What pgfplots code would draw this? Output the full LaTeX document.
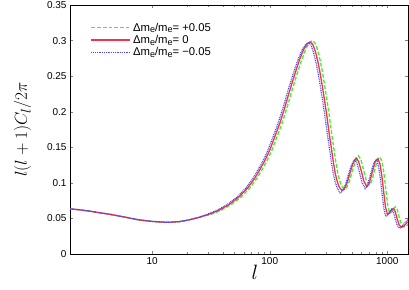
\documentclass[border=0pt]{standalone}
\usepackage{fontspec}
\setmainfont{Liberation Sans}
\usepackage{pgfplots}
\pgfplotsset{compat=1.18}
\usetikzlibrary{calc}
\definecolor{cgreen}{RGB}{70,235,50}
\definecolor{cred}{RGB}{245,50,75}
\definecolor{cblue}{RGB}{70,70,245}
\tikzset{
  sgreen/.style={color=cgreen, line width=1.3pt, dash pattern=on 3.8pt off 1.9pt},
  sred/.style={color=cred, line width=1.3pt},
  sblue/.style={color=cblue, line width=1.2pt, dash pattern=on 0.9pt off 0.9pt},
}
\newcommand{\sube}{\raisebox{-0.3ex}{\fontsize{9}{10}\selectfont e}}
\newcommand{\dme}[1]{Δm\sube/m\sube= #1}
\begin{document}
\begin{tikzpicture}
\begin{axis}[
  scale only axis, width=338pt, height=249pt,
  xmode=log, xmin=2, xmax=1500, ymin=0, ymax=0.35,
  axis line style={line width=0.9pt},
  tick align=inside, tick pos=both,
  major tick length=3.5pt, minor tick length=2pt,
  xtick={10,100,1000}, xticklabels={10,100,1000},
  ytick={0,0.05,0.1,0.15,0.2,0.25,0.3,0.35},
  yticklabels={0,0.05,0.1,0.15,0.2,0.25,0.3,0.35},
  tick label style={font=\fontsize{10}{11}\selectfont},
  /pgf/number format/assume math mode=true,
  xlabel={$l$}, ylabel={$l(l+1)C_l/2\pi$},
  label style={font=\fontsize{19}{22}\selectfont},
  xlabel style={at={(axis description cs:0.547,0)}, anchor=north, yshift=-8pt, font=\fontsize{20}{24}\selectfont},
  ylabel style={yshift=9pt},
  legend cell align=left,
  legend style={draw=none, fill=none, at={(0.052,0.945)}, anchor=north west,
    font=\fontsize{11.3}{13}\selectfont, row sep=-1.5pt},
  legend image code/.code={\draw[#1] (0pt,0pt) -- (39pt,0pt);},
]
\addlegendimage{sgreen}
\addlegendentry{\dme{+0.05}}
\addlegendimage{sred}
\addlegendentry{\dme{0}}
\addlegendimage{sblue}
\addlegendentry{\dme{−0.05}}
\addplot[sgreen, forget plot] coordinates {
(2,0.0635)(2.5,0.0618)(3,0.0600)(3.5,0.0582)(4.3,0.0560)(5,0.0540)(6,0.0515)(7.7,0.0480)
(10,0.0458)(12,0.0449)(14,0.0446)(17,0.0455)(20.7,0.0480)(25,0.0515)
(31.4,0.0555)(38.7,0.0615)(47.0,0.0695)(57.5,0.0805)(67.9,0.0930)(78.4,0.107)(85.7,0.118)
(94.1,0.130)(104.5,0.146)(115,0.164)(127.5,0.184)(141,0.207)(154.7,0.230)(172.4,0.255)
(188.1,0.274)(203.8,0.289)(217.4,0.297)(229.9,0.300)(242.4,0.297)(256,0.286)(268.6,0.272)
(279,0.258)(292.6,0.238)(303,0.222)(318.7,0.198)(334.4,0.172)(350,0.150)(362.6,0.132)
(376.2,0.116)(391.9,0.104)(407.6,0.096)(428.5,0.0915)(449.4,0.093)(475.5,0.102)(501.6,0.115)
(533,0.129)(567.4,0.138)(595.7,0.133)(627,0.119)(658.4,0.105)(700,0.097)(731.5,0.101)
(773.3,0.115)(825.6,0.132)(869.4,0.136)(904,0.129)(940.5,0.111)(977,0.087)(1008.4,0.068)
(1048,0.057)(1086.8,0.059)(1139,0.064)(1176.7,0.0665)(1217.4,0.062)(1264.5,0.051)
(1316.7,0.042)(1377.3,0.038)(1442.1,0.039)(1515,0.042)
};
\addplot[sred, forget plot] coordinates {
(2,0.0635)(2.5,0.0618)(3,0.0600)(3.5,0.0582)(4.3,0.0560)(5,0.0540)(6,0.0515)(7.7,0.0480)
(10,0.0458)(12,0.0449)(14,0.0446)(17,0.0455)(20.7,0.0480)(25,0.0515)
(30,0.0555)(37,0.0615)(45,0.0695)(55,0.0805)(65,0.0930)(75,0.107)(82,0.118)(90,0.130)
(100,0.146)(110,0.164)(122,0.184)(135,0.207)(148,0.230)(165,0.255)(180,0.274)(195,0.288)
(208,0.295)(220,0.298)(232,0.295)(245,0.284)(257,0.270)(267,0.256)(280,0.236)(290,0.220)
(305,0.196)(320,0.170)(335,0.148)(347,0.130)(360,0.114)(375,0.102)(390,0.094)(410,0.0895)
(430,0.091)(455,0.100)(480,0.113)(510,0.127)(543,0.135)(570,0.130)(600,0.117)(630,0.103)
(670,0.0945)(700,0.099)(740,0.113)(790,0.130)(832,0.134)(865,0.127)(900,0.109)(935,0.085)
(965,0.066)(1003,0.0555)(1040,0.0575)(1090,0.0625)(1126,0.0640)(1165,0.060)(1210,0.050)
(1260,0.041)(1318,0.0375)(1380,0.039)(1450,0.043)(1500,0.045)
};
\addplot[sblue, forget plot] coordinates {
(2,0.0635)(2.5,0.0618)(3,0.0600)(3.5,0.0582)(4.3,0.0560)(5,0.0540)(6,0.0515)(7.7,0.0480)
(10,0.0458)(12,0.0449)(14,0.0446)(17,0.0455)(20.7,0.0480)(25,0.0515)
(29,0.0555)(35.7,0.0615)(43.5,0.0695)(53.1,0.0805)(62.8,0.0930)(72.5,0.107)(79.2,0.118)
(87,0.130)(96.6,0.146)(106.3,0.164)(117.9,0.184)(130.4,0.207)(143,0.230)(159.4,0.255)
(173.9,0.273)(188.4,0.287)(201,0.294)(212.6,0.297)(224.2,0.294)(236.7,0.282)(248.3,0.268)
(258,0.254)(270.5,0.234)(280.2,0.218)(294.7,0.194)(309.2,0.168)(323.7,0.146)(335.3,0.128)
(347.8,0.112)(362.3,0.100)(376.8,0.092)(396.1,0.086)(415.5,0.088)(439.6,0.097)(463.8,0.110)
(492.8,0.124)(524.6,0.133)(550.7,0.128)(579.7,0.115)(608.7,0.101)(647.3,0.092)(676.3,0.096)
(715,0.110)(763.3,0.127)(803.9,0.133)(835.7,0.126)(869.6,0.108)(903.4,0.084)(932.4,0.065)
(969.1,0.053)(1004.8,0.055)(1053.1,0.060)(1087.9,0.063)(1125.6,0.059)(1169,0.049)
(1217.4,0.040)(1273.4,0.036)(1333.3,0.039)(1401,0.043)(1449,0.046)(1500,0.048)
};
\end{axis}
\pgfresetboundingbox
\path[use as bounding box] ($(current axis.south west)+(-70pt,-35pt)$) rectangle ($(current axis.north east)+(1pt,5pt)$);
\end{tikzpicture}
\end{document}
